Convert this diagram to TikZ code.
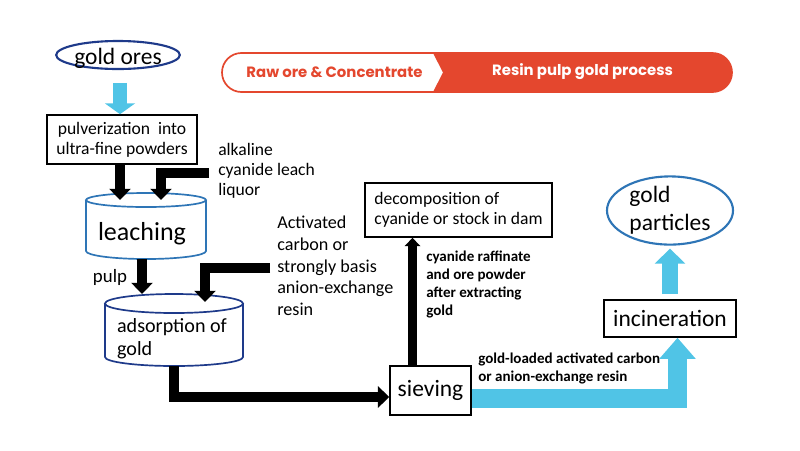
\documentclass[tikz,border=0pt]{standalone}
\usepackage{fontspec}
\setmainfont{Carlito}
\newfontfamily\bannerfont{Poppins}
\usetikzlibrary{arrows.meta,shapes.geometric}
\definecolor{skyb}{RGB}{80,196,230}
\definecolor{navyb}{RGB}{30,58,138}
\definecolor{midb}{RGB}{46,117,182}
\definecolor{bred}{RGB}{228,71,46}
\newcommand\fbig{\fontsize{16.7}{20}\selectfont}
\newcommand\fleach{\fontsize{18.5}{22}\selectfont}
\newcommand\fmed{\fontsize{12.5}{14.4}\selectfont}
\newcommand\fact{\fontsize{12.9}{15.4}\selectfont}
\newcommand\fads{\fontsize{14.3}{16.6}\selectfont}
\newcommand\fpulp{\fontsize{13.4}{16}\selectfont}
\newcommand\fsml{\bfseries\fontsize{10.7}{12.8}\selectfont}
\newcommand\fban{\bannerfont\bfseries\fontsize{10.6}{12}\selectfont}
\begin{document}
\begin{tikzpicture}[x=0.025cm,y=-0.025cm,
  box/.style={draw=black, line width=1.1pt, fill=white, inner sep=0pt},
  txt/.style={inner sep=0pt, align=left, anchor=west},
  anch/.style={inner sep=0pt, outer sep=0pt, draw=none},
  blkA/.style={draw=black, line width=7.1pt, line join=miter, -{Triangle[width=15pt,length=8pt]}},
  blkB/.style={draw=black, line width=5.7pt, line join=miter, -{Triangle[width=11pt,length=6pt]}},
  skyA/.style={draw=skyb, line width=10pt, -{Triangle[width=21.3pt,length=7.8pt]}},
  skyB/.style={draw=skyb, line width=13.5pt, line join=miter, -{Triangle[width=25pt,length=15pt]}},
  skyC/.style={draw=skyb, line width=10.7pt, -{Triangle[width=21.3pt,length=10.7pt]}},
  cylA/.style={draw=midb, line width=1.2pt, fill=white},
  cylB/.style={draw=navyb, line width=1.2pt, fill=white}]
\useasboundingbox[fill=white] (0,0) rectangle (800,450);

% banner
\draw[bred, line width=1.2pt, fill=white] (241.5,92) arc[start angle=270,end angle=90,radius=0.4875cm] -- (712.5,53) arc[start angle=90,end angle=-90,radius=0.4875cm] -- cycle;
\fill[bred] (433,53) -- (712.5,53) arc[start angle=90,end angle=-90,radius=0.4875cm] -- (433,92) -- (443,72.5) -- cycle;
\node[inner sep=0pt, font=\fban, text=bred] (raw) at (334.5,72) {Raw ore \& Concentrate};
\node[inner sep=0pt, font=\fban, text=white] (resin) at (582.5,72) {Resin pulp gold process};

% cylinders
\draw[cylA] (86,200) -- (86,251) arc[start angle=180,end angle=360,x radius=1.5cm,y radius=0.2cm] -- (206,200);
\draw[cylA] (146,200) ellipse[x radius=1.5cm,y radius=0.175cm];
\node[anch, minimum width=3cm, minimum height=1.475cm] (leach) at (146,229.5) {};
\node[inner sep=0pt, font=\fleach] (leachtxt) at (142,234) {leaching};

\draw[cylB] (105,303.5) -- (105,357) arc[start angle=180,end angle=360,x radius=1.725cm,y radius=0.225cm] -- (243,303.5);
\draw[cylB] (174,303.5) ellipse[x radius=1.725cm,y radius=0.2375cm];
\node[anch, minimum width=3.45cm, minimum height=1.8cm] (ads) at (174,330) {};
\node[inner sep=0pt, font=\fads, align=left] (adstxt) at (172,339) {adsorption of\\gold};

% nodes
\node[draw=navyb, line width=1.5pt, ellipse, minimum width=3.05cm, minimum height=0.7cm, inner sep=0pt, text height=14pt, text depth=0pt, font=\fbig] (ores) at (118,55) {gold ores};
\node[box, minimum width=3.75cm, minimum height=1.225cm, font=\fmed, align=center] (pulv) at (122,139.5) {pulverization~ into\\ultra-fine powders};
\node[box, minimum width=4.675cm, minimum height=1.35cm, font=\fmed, align=left] (decomp) at (458.5,210) {decomposition of\\cyanide or stock in dam};
\node[box, minimum width=2.025cm, minimum height=1.225cm, font=\fbig] (sieve) at (430.5,390.5) {sieving};
\node[box, minimum width=3.3cm, minimum height=0.925cm, font=\fbig] (incin) at (670,318.5) {incineration};
\node[draw=midb, line width=1.5pt, ellipse, minimum width=3.15cm, minimum height=1.675cm, inner sep=0pt, font=\fbig, align=left] (gp) at (670,210.5) {gold\\particles};

% labels
\node[txt, font=\fmed] (alk) at (218,171) {alkaline\\cyanide leach\\liquor};
\node[txt, font=\fact] (actc) at (277,266) {Activated\\carbon or\\strongly basis\\anion-exchange\\resin};
\node[txt, font=\fsml] (raff) at (426,284) {cyanide raffinate\\and ore powder\\after extracting\\gold};
\node[txt, font=\fsml] (loaded) at (478,368) {gold-loaded activated carbon\\or anion-exchange resin};
\node[inner sep=0pt, font=\fpulp] (pulp) at (110,277) {pulp};

% connectors
\coordinate (liq) at (209,172.5);
\coordinate (act) at (270,267.5);
\draw[skyA, shorten <=0.32cm] (120,0 |- ores.south) -- (120,0 |- pulv.north);
\draw[blkA] (120,0 |- pulv.south) -- (120,0 |- leach.north);
\draw[blkA] (liq) -- (161,172.5) -- (161,0 |- leach.north);
\draw[blkA] (142,0 |- leach.south) -- (142,0 |- ads.north);
\draw[blkA, shorten >=-0.2cm] (act) -- (205,267.5) -- (205,0 |- ads.north);
\draw[blkA] (ads.south) -- (174,397) -- (sieve.west |- 0,397);
\draw[blkB] (412.5,0 |- sieve.north) -- (412.5,0 |- decomp.south);
\draw[skyB] (sieve.east |- 0,398) -- (677.5,398) -- (677.5,0 |- incin.south);
\draw[skyC, shorten <=0.125cm, shorten >=0.075cm] (incin.north) -- (gp.south);
\end{tikzpicture}
\end{document}
